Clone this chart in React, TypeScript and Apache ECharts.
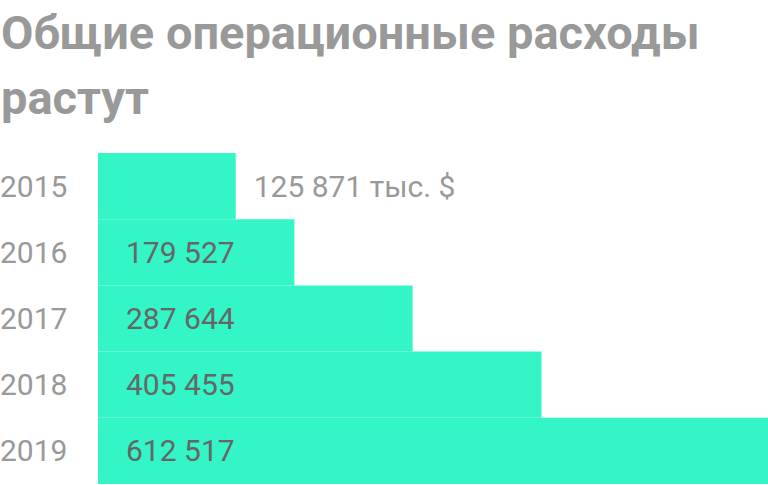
import { useEffect, useRef } from 'react';
import * as echarts from 'echarts';

const years = ['2015', '2016', '2017', '2018', '2019'];
const expenses = [125871, 179527, 287644, 405455, 612517];
const unitSuffix = ' тыс. $';

const fmt = (v: number) => String(v).replace(/\B(?=(\d{3})+(?!\d))/g, ' ');

export default function App() {
  const chartRef = useRef<HTMLDivElement>(null);

  useEffect(() => {
    document.body.style.margin = '0';
    if (!chartRef.current) return;
    const chart = echarts.init(chartRef.current, null, { renderer: 'svg' });

    chart.setOption({
      animation: false,
      title: {
        text: 'Общие операционные расходы\nрастут',
        left: 1,
        top: 0,
        padding: 0,
        textStyle: {
          fontFamily: 'Roboto',
          fontSize: 47,
          fontWeight: 'bold',
          color: '#999999',
          lineHeight: 65,
        },
      },
      grid: { left: 98, right: 0, top: 153, bottom: 1, outerBoundsMode: 'none' },
      xAxis: {
        type: 'value',
        min: 0,
        max: 612517,
        show: false,
      },
      yAxis: {
        type: 'category',
        inverse: true,
        data: years,
        axisLine: { show: false },
        axisTick: { show: false },
        axisLabel: {
          align: 'left',
          margin: 98,
          fontFamily: 'Roboto',
          fontSize: 30,
          color: '#999999',
        },
      },
      series: [{
        type: 'bar',
        barCategoryGap: 0,
        itemStyle: { color: '#33F5C5' },
        data: expenses.map((v, i) => ({
          value: v,
          label: i === 0
            ? { show: true, position: 'right', distance: 18, color: '#999999', formatter: fmt(v) + unitSuffix }
            : { show: true, position: 'insideLeft', distance: 28, color: '#666666', formatter: fmt(v) },
        })),
        label: { fontFamily: 'Roboto', fontSize: 30 },
      }],
    });

    return () => chart.dispose();
  }, []);

  return <div ref={chartRef} style={{ width: 768, height: 485 }} />;
}
